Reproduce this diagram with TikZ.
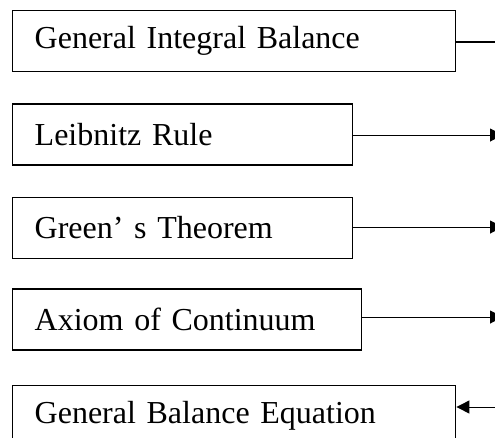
\documentclass[tikz,border=0pt]{standalone}
\usepackage{fontspec}
\setmainfont{Liberation Serif}
\usetikzlibrary{arrows.meta, positioning}
\tikzset{
  box/.style={rectangle, draw=black, line width=1.4pt,
    text width=#1, align=left, inner xsep=22pt, inner ysep=0pt,
    minimum height=61pt, font=\fontsize{32}{36}\selectfont},
  arrow/.style={-{Triangle[length=13pt, width=13pt]}, line width=1pt, color=black},
  line/.style={line width=1.2pt, color=black}
}
\begin{document}
\begin{tikzpicture}[x=1pt, y=1pt, node distance=31pt]
  \path[use as bounding box, clip] (0,0) rectangle (495,-437);
  \node[box=399pt, anchor=north west] (n1) at (12,-10) {General Integral Balance};
  \node[box=296pt, below=31pt of n1.south west, anchor=north west] (n2) {Leibnitz Rule};
  \node[box=296pt, below=31pt of n2.south west, anchor=north west] (n3) {Green’ s Theorem};
  \node[box=305pt, below=29pt of n3.south west, anchor=north west] (n4) {Axiom of Continuum};
  \node[box=399pt, below=34pt of n4.south west, anchor=north west] (n5) {General Balance Equation};
  % free ends at the right margin
  \coordinate (o1) at (495,-42);
  \coordinate (o2) at (503,-135);
  \coordinate (o3) at (503,-227);
  \coordinate (o4) at (503,-317);
  \coordinate (o5) at (496,-407);
  \draw[line] (n1.east |- o1) -- (o1);
  \draw[arrow] (n2.east |- o2) -- (o2);
  \draw[arrow] (n3.east |- o3) -- (o3);
  \draw[arrow] (n4.east |- o4) -- (o4);
  \draw[arrow] (o5) -- (o5 -| n5.east);
\end{tikzpicture}
\end{document}
